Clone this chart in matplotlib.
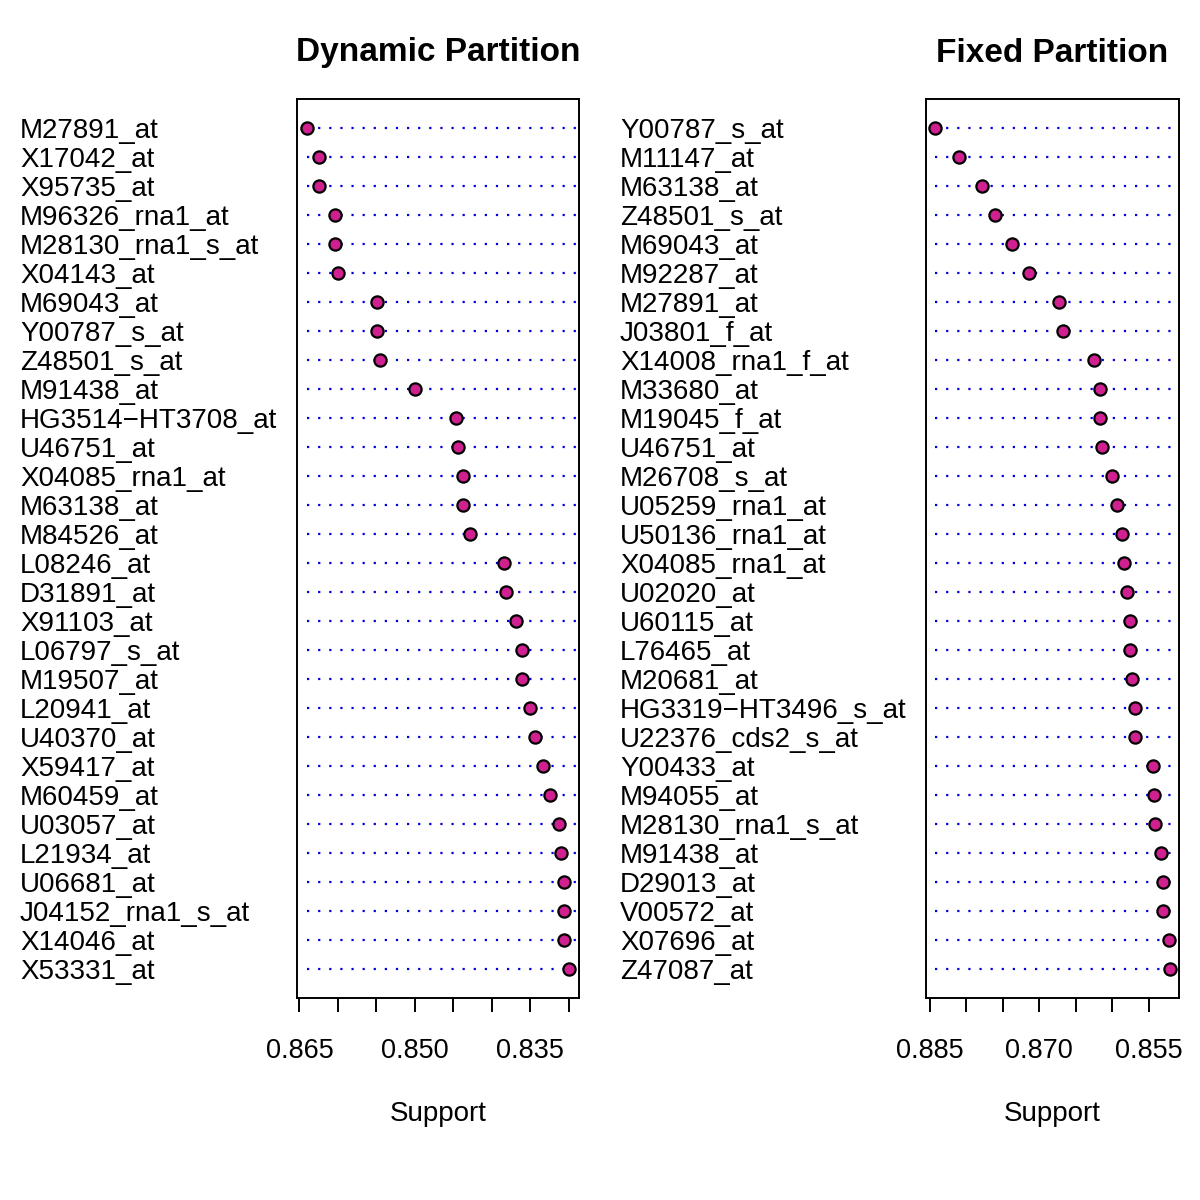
import matplotlib
matplotlib.use("Agg")
import matplotlib.pyplot as plt
import matplotlib.transforms as mtransforms
import numpy as np

plt.rcParams['font.family'] = ['Liberation Sans', 'DejaVu Sans']

# Dynamic partition (top to bottom)
dyn_genes = ["M27891_at", "X17042_at", "X95735_at", "M96326_rna1_at", "M28130_rna1_s_at",
             "X04143_at", "M69043_at", "Y00787_s_at", "Z48501_s_at", "M91438_at",
             "HG3514\u2212HT3708_at", "U46751_at", "X04085_rna1_at", "M63138_at", "M84526_at",
             "L08246_at", "D31891_at", "X91103_at", "L06797_s_at", "M19507_at",
             "L20941_at", "U40370_at", "X59417_at", "M60459_at", "U03057_at",
             "L21934_at", "U06681_at", "J04152_rna1_s_at", "X14046_at", "X53331_at"]
dyn_support = [0.86396, 0.86245, 0.86245, 0.86038, 0.86038,
               0.85995, 0.85497, 0.85497, 0.85451, 0.85001,
               0.84461, 0.84444, 0.84376, 0.84376, 0.84289,
               0.83845, 0.83819, 0.83689, 0.83611, 0.83611,
               0.83499, 0.83438, 0.83339, 0.83240, 0.83127,
               0.83097, 0.83062, 0.83062, 0.83062, 0.83003]

# Fixed partition (top to bottom)
fix_genes = ["Y00787_s_at", "M11147_at", "M63138_at", "Z48501_s_at", "M69043_at",
             "M92287_at", "M27891_at", "J03801_f_at", "X14008_rna1_f_at", "M33680_at",
             "M19045_f_at", "U46751_at", "M26708_s_at", "U05259_rna1_at", "U50136_rna1_at",
             "X04085_rna1_at", "U02020_at", "U60115_at", "L76465_at", "M20681_at",
             "HG3319\u2212HT3496_s_at", "U22376_cds2_s_at", "Y00433_at", "M94055_at", "M28130_rna1_s_at",
             "M91438_at", "D29013_at", "V00572_at", "X07696_at", "Z47087_at"]
fix_support = [0.88422, 0.88099, 0.87785, 0.87611, 0.87369,
               0.87146, 0.86726, 0.86667, 0.86252, 0.86161,
               0.86161, 0.86137, 0.86006, 0.85932, 0.85869,
               0.85836, 0.85801, 0.85754, 0.85754, 0.85723,
               0.85686, 0.85686, 0.85436, 0.85422, 0.85408,
               0.85326, 0.85299, 0.85299, 0.85226, 0.85213]

dyn_ticks = [0.865, 0.850, 0.835]
fix_ticks = [0.885, 0.870, 0.855]

fig = plt.figure(figsize=(12, 12), dpi=100)

W, H = 1200.0, 1200.0


def dotpanel(rect, genes, vals, major, title, label_x):
    ax = fig.add_axes(rect)
    n = len(vals)
    ys = np.arange(n, 0, -1)
    for y in ys:
        ax.axhline(y, xmin=0.035, xmax=0.99, color="#0000dd", lw=1.6,
                   linestyle=(0, (1, 4.0)), zorder=1)
    ax.plot(vals, ys, "o", ms=8.8, mfc="#D02090", mec="black", mew=1.6, zorder=3)
    lo, hi = min(vals), max(vals)
    pad = (hi - lo) * 0.04
    ax.set_xlim(hi + pad, lo - pad)
    ax.set_ylim(0, n + 1)
    ax.set_yticks([])
    step = 0.005
    minor = np.arange(major[-1] - step, major[0] + step / 2, step)
    minor = [m for m in minor if lo - pad <= m <= hi + pad]
    ax.set_xticks(minor, minor=True)
    ax.set_xticks(major)
    ax.set_xticklabels(["%.3f" % t for t in major])
    ax.tick_params(axis="x", which="both", direction="out", length=10, width=1.4)
    ax.tick_params(axis="x", which="major", labelsize=19.5, pad=19)
    for s in ax.spines.values():
        s.set_linewidth(1.4)
    trans = mtransforms.blended_transform_factory(fig.transFigure, ax.transData)
    trans = mtransforms.offset_copy(trans, fig=fig, y=-3, units="dots")
    for g, y in zip(genes, ys):
        ax.text(label_x, y, g, transform=trans, ha="left", va="center",
                fontsize=20, clip_on=False)
    cx = rect[0] + rect[2] / 2
    fig.text(cx, 1 - 53 / H, title, ha="center", va="center",
             fontsize=24, fontweight="bold")
    fig.text(cx, 1 - 1114 / H, "Support", ha="center", va="center", fontsize=20)
    return ax


top, bottom = 99, 998
dotpanel([297 / W, 1 - bottom / H, 282 / W, (bottom - top) / H],
         dyn_genes, dyn_support, dyn_ticks, "Dynamic Partition", 20 / W)
dotpanel([926 / W, 1 - bottom / H, 253 / W, (bottom - top) / H],
         fix_genes, fix_support, fix_ticks, "Fixed Partition", 620 / W)

fig.savefig("out.png", dpi=100, facecolor="white")
